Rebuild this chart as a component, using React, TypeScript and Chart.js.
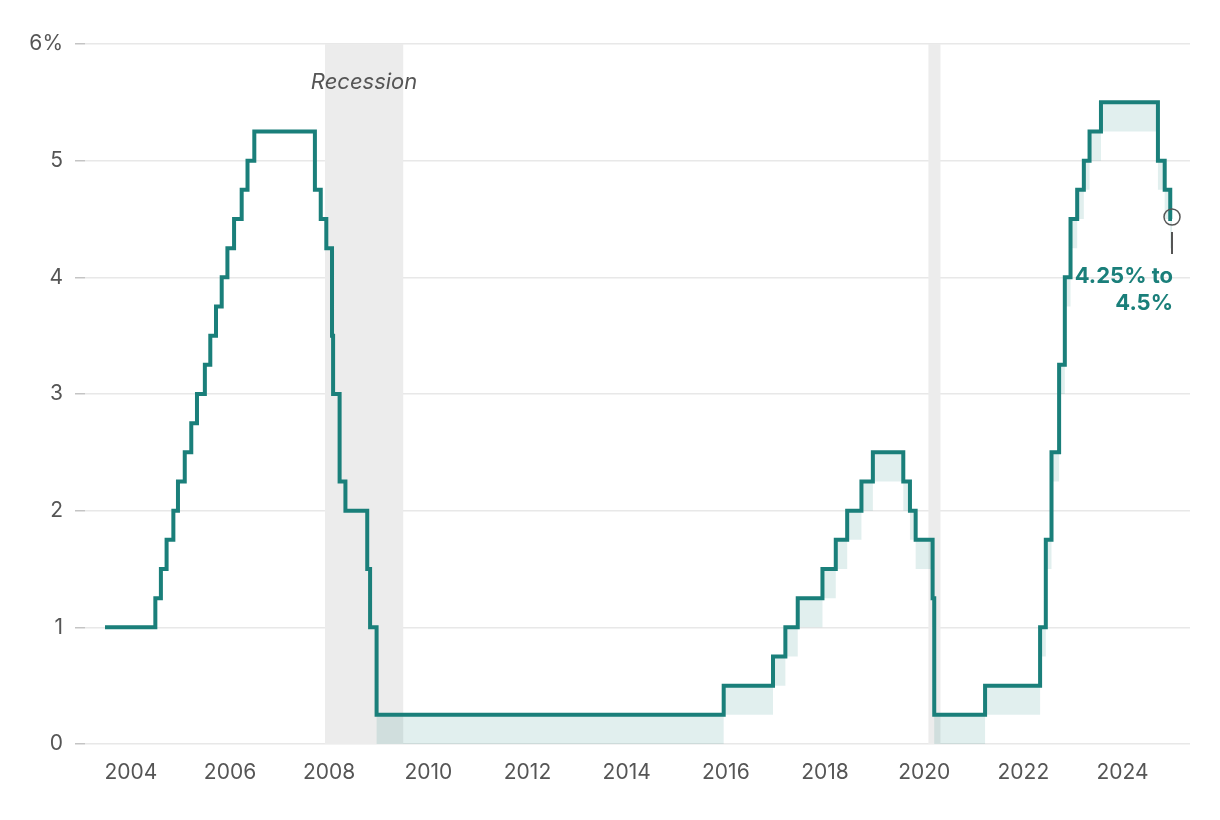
import React, { useEffect, useRef } from "react";
import { Chart, registerables } from "chart.js";

Chart.register(...registerables);

// Fed funds target: date of change, upper bound, lower bound (percent)
const changeDates = [
  "2003-06-25", "2004-06-30", "2004-08-10", "2004-09-21", "2004-11-10", "2004-12-14",
  "2005-02-02", "2005-03-22", "2005-05-03", "2005-06-30", "2005-08-09", "2005-09-20",
  "2005-11-01", "2005-12-13", "2006-01-31", "2006-03-28", "2006-05-10", "2006-06-29",
  "2007-09-18", "2007-10-31", "2007-12-11", "2008-01-22", "2008-01-30", "2008-03-18",
  "2008-04-30", "2008-10-08", "2008-10-29", "2008-12-16", "2015-12-16", "2016-12-14",
  "2017-03-15", "2017-06-14", "2017-12-13", "2018-03-21", "2018-06-13", "2018-09-26",
  "2018-12-19", "2019-07-31", "2019-09-18", "2019-10-30", "2020-03-03", "2020-03-15",
  "2021-03-25", "2022-05-04", "2022-06-15", "2022-07-27", "2022-09-21", "2022-11-02",
  "2022-12-14", "2023-02-01", "2023-03-22", "2023-05-03", "2023-07-26", "2024-09-18",
  "2024-11-07", "2024-12-18", "2024-12-31",
];
const upperBound = [
  1.0, 1.25, 1.5, 1.75, 2.0, 2.25,
  2.5, 2.75, 3.0, 3.25, 3.5, 3.75,
  4.0, 4.25, 4.5, 4.75, 5.0, 5.25,
  4.75, 4.5, 4.25, 3.5, 3.0, 2.25,
  2.0, 1.5, 1.0, 0.25, 0.5, 0.75,
  1.0, 1.25, 1.5, 1.75, 2.0, 2.25,
  2.5, 2.25, 2.0, 1.75, 1.25, 0.25,
  0.5, 1.0, 1.75, 2.5, 3.25, 4.0,
  4.5, 4.75, 5.0, 5.25, 5.5, 5.0,
  4.75, 4.5, 4.5,
];
const lowerBound = [
  1.0, 1.25, 1.5, 1.75, 2.0, 2.25,
  2.5, 2.75, 3.0, 3.25, 3.5, 3.75,
  4.0, 4.25, 4.5, 4.75, 5.0, 5.25,
  4.75, 4.5, 4.25, 3.5, 3.0, 2.25,
  2.0, 1.5, 1.0, 0.0, 0.25, 0.5,
  0.75, 1.0, 1.25, 1.5, 1.75, 2.0,
  2.25, 2.0, 1.75, 1.5, 1.0, 0.0,
  0.25, 0.75, 1.5, 2.25, 3.0, 3.75,
  4.25, 4.5, 4.75, 5.0, 5.25, 4.75,
  4.5, 4.25, 4.25,
];

const recessionStarts = ["2007-12-01", "2020-02-01"];
const recessionEnds = ["2009-06-30", "2020-04-30"];
const recessionLabel = "Recession";

const xTickYears = [2004, 2006, 2008, 2010, 2012, 2014, 2016, 2018, 2020, 2022, 2024];
const yTickValues = [0, 1, 2, 3, 4, 5, 6];

const latestLabel = ["4.25% to", "4.5%"];

const TEAL = "#1a7f7a";
const FONT = "Inter, 'Noto Sans', sans-serif";

function toYear(s: string): number {
  const d = new Date(s + "T00:00:00Z");
  const y = d.getUTCFullYear();
  const start = Date.UTC(y, 0, 1);
  const end = Date.UTC(y + 1, 0, 1);
  return y + (d.getTime() - start) / (end - start);
}

const overlayPlugin = {
  id: "overlay",
  beforeDatasetsDraw(chart: any) {
    const { ctx, chartArea, scales } = chart;
    const xs = scales.x;
    ctx.save();
    ctx.fillStyle = "#ececec";
    recessionStarts.forEach((s, i) => {
      const x0 = xs.getPixelForValue(toYear(s));
      const x1 = xs.getPixelForValue(toYear(recessionEnds[i]));
      ctx.fillRect(x0, chartArea.top, x1 - x0, chartArea.bottom - chartArea.top);
    });
    const x0 = xs.getPixelForValue(toYear(recessionStarts[0]));
    const x1 = xs.getPixelForValue(toYear(recessionEnds[0]));
    ctx.fillStyle = "#555";
    ctx.font = `italic 22px ${FONT}`;
    ctx.textAlign = "center";
    ctx.textBaseline = "middle";
    ctx.fillText(recessionLabel, (x0 + x1) / 2, 82);
    ctx.restore();
  },
  afterDatasetsDraw(chart: any) {
    const { ctx, scales } = chart;
    const n = changeDates.length - 1;
    const px = scales.x.getPixelForValue(toYear(changeDates[n]));
    const py = scales.y.getPixelForValue(upperBound[n]);
    ctx.save();
    ctx.strokeStyle = "#555";
    ctx.lineWidth = 1.5;
    ctx.beginPath();
    ctx.arc(px, py - 2, 8, 0, Math.PI * 2);
    ctx.stroke();
    ctx.lineWidth = 2;
    ctx.beginPath();
    ctx.moveTo(px, py + 13);
    ctx.lineTo(px, py + 35);
    ctx.stroke();
    ctx.fillStyle = TEAL;
    ctx.font = `bold 22px ${FONT}`;
    ctx.textAlign = "right";
    ctx.textBaseline = "middle";
    ctx.fillText(latestLabel[0], px + 1, py + 57);
    ctx.fillText(latestLabel[1], px + 1, py + 84);
    ctx.restore();
  },
};

export default function App() {
  const ref = useRef<HTMLCanvasElement | null>(null);
  useEffect(() => {
    if (!ref.current) return;
    const upperData = changeDates.map((d, i) => ({ x: toYear(d), y: upperBound[i] }));
    const lowerData = changeDates.map((d, i) => ({ x: toYear(d), y: lowerBound[i] }));
    const chart = new Chart(ref.current, {
      type: "line",
      data: {
        datasets: [
          {
            label: "Upper bound",
            data: upperData,
            stepped: "before",
            borderColor: TEAL,
            borderWidth: 4,
            borderJoinStyle: "miter",
            borderCapStyle: "butt",
            pointRadius: 0,
            fill: false,
          },
          {
            label: "Lower bound",
            data: lowerData,
            stepped: "before",
            borderWidth: 0,
            borderColor: "rgba(0,0,0,0)",
            pointRadius: 0,
            fill: "-1",
            backgroundColor: "rgba(26,128,122,0.13)",
          },
        ],
      },
      options: {
        animation: false,
        responsive: false,
        events: [],
        layout: { padding: { top: 44, right: 30, bottom: 0, left: 0 } },
        plugins: { legend: { display: false }, tooltip: { enabled: false } },
        scales: {
          x: {
            type: "linear",
            min: 2003.076,
            max: 2025.36,
            grid: { display: false, drawTicks: false },
            border: { display: false },
            afterBuildTicks(axis: any) {
              axis.ticks = xTickYears.map((v) => ({ value: v }));
            },
            afterFit(axis: any) {
              axis.height = 76;
            },
            ticks: {
              padding: 16,
              maxRotation: 0,
              autoSkip: false,
              color: "#555",
              font: { family: FONT, size: 21 },
              callback: (v: any) => String(v),
            },
          },
          y: {
            min: 0,
            max: 6,
            afterBuildTicks(axis: any) {
              axis.ticks = yTickValues.map((v) => ({ value: v }));
            },
            afterFit(axis: any) {
              axis.width = 85;
            },
            grid: {
              color: "#e8e8e8",
              lineWidth: 1.5,
              drawTicks: true,
              tickLength: 10,
              tickColor: "#c4c4c4",
            },
            border: { display: false },
            ticks: {
              padding: 12,
              color: "#555",
              font: { family: FONT, size: 21 },
              callback: (v: any) => (v === 6 ? "6%" : String(v)),
            },
          },
        },
      },
      plugins: [overlayPlugin],
    } as any);
    return () => chart.destroy();
  }, []);
  return (
    <div style={{ position: "absolute", left: 0, top: 0, width: 1220, height: 820, background: "#fff" }}>
      <canvas ref={ref} width={1220} height={820} style={{ display: "block" }} />
    </div>
  );
}
